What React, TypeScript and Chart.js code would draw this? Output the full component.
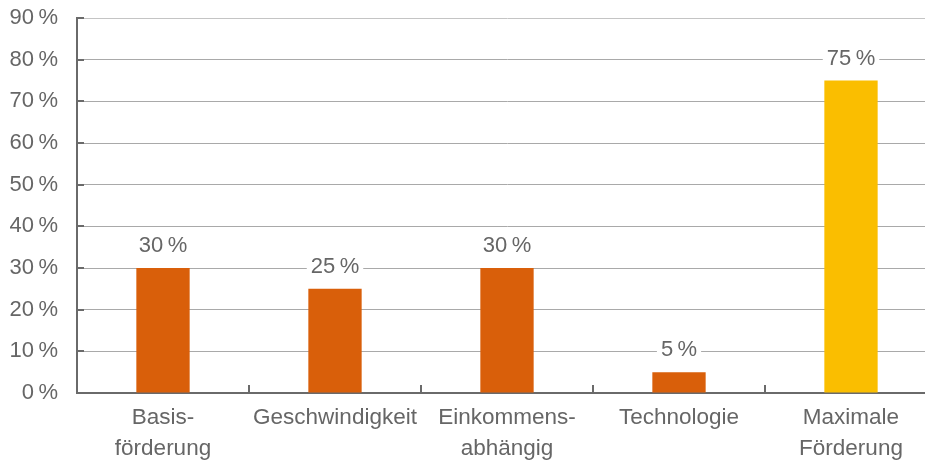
import React, { useEffect, useRef } from "react";
import { Chart, registerables } from "chart.js";

Chart.register(...registerables);

// Förderanteile je Modell (in Prozent)
const categories: (string | string[])[] = [
  ["Basis-", "förderung"],
  "Geschwindigkeit",
  ["Einkommens-", "abhängig"],
  "Technologie",
  ["Maximale", "Förderung"],
];
const shares = [30, 25, 30, 5, 75];
const barColors = ["#D95F0A", "#D95F0A", "#D95F0A", "#D95F0A", "#FABE00"];
const yTicks = [0, 10, 20, 30, 40, 50, 60, 70, 80, 90];

const FONT = "'Liberation Sans', Arial, Helvetica, sans-serif";
const FONT_SIZE = 22;
const TEXT = "#666666";
const pct = (v: number) => `${v}\u2009%`;

// Short tick marks pointing into the plot, plus value labels with a white backing
const decorations = {
  id: "decorations",
  afterDatasetsDraw(chart: any) {
    const { ctx, chartArea, scales } = chart;
    const x = scales.x;
    const y = scales.y;
    ctx.save();
    ctx.strokeStyle = "#6a6a6a";
    ctx.lineWidth = 2;
    // y-axis ticks (inside)
    yTicks.forEach((v) => {
      const py = Math.round(y.getPixelForValue(v));
      ctx.beginPath();
      ctx.moveTo(chartArea.left, py);
      ctx.lineTo(chartArea.left + 7, py);
      ctx.stroke();
    });
    // x-axis ticks between categories (inside)
    for (let i = 1; i < categories.length; i++) {
      const px = Math.round((x.getPixelForTick(i - 1) + x.getPixelForTick(i)) / 2);
      ctx.beginPath();
      ctx.moveTo(px, chartArea.bottom);
      ctx.lineTo(px, chartArea.bottom - 8);
      ctx.stroke();
    }
    // value labels
    ctx.font = `${FONT_SIZE}px ${FONT}`;
    ctx.textAlign = "center";
    ctx.textBaseline = "alphabetic";
    const meta = chart.getDatasetMeta(0);
    meta.data.forEach((bar: any, i: number) => {
      const text = pct(shares[i]);
      const w = ctx.measureText(text).width;
      const base = bar.y - 16;
      ctx.fillStyle = "#ffffff";
      ctx.fillRect(bar.x - w / 2 - 4, base - 19, w + 8, 23);
      ctx.fillStyle = TEXT;
      ctx.fillText(text, bar.x, base);
    });
    ctx.restore();
  },
};

export default function App() {
  const canvasRef = useRef<HTMLCanvasElement | null>(null);

  useEffect(() => {
    const canvas = canvasRef.current;
    if (!canvas) return;
    const chart = new Chart(canvas, {
      type: "bar",
      data: {
        labels: categories,
        datasets: [
          {
            data: shares,
            backgroundColor: barColors,
            borderWidth: 0,
            categoryPercentage: 1,
            barPercentage: 0.31,
          },
        ],
      },
      options: {
        animation: false,
        responsive: false,
        devicePixelRatio: 1,
        layout: { padding: { top: 18, right: 3, left: 0, bottom: 0 } },
        plugins: {
          legend: { display: false },
          tooltip: { enabled: false },
        },
        scales: {
          x: {
            z: 1,
            grid: { display: false, drawTicks: false, offset: true },
            border: { display: true, color: "#6a6a6a", width: 2 },
            ticks: {
              color: TEXT,
              font: { family: FONT, size: 22.5, lineHeight: 1.35 },
              padding: 10,
              maxRotation: 0,
              autoSkip: false,
            },
            afterFit: (scale: any) => {
              scale.height = 68;
            },
          },
          y: {
            min: 0,
            max: 90,
            afterBuildTicks: (scale: any) => {
              scale.ticks = yTicks.map((v) => ({ value: v }));
            },
            grid: {
              drawTicks: false,
              color: (c: any) => (c.tick && c.tick.value === 90 ? "#c4c4c4" : "#a9a9a9"),
              lineWidth: 1,
            },
            border: { display: true, color: "#6a6a6a", width: 2 },
            ticks: {
              color: TEXT,
              font: { family: FONT, size: FONT_SIZE },
              padding: 19,
              callback: (v: any) => pct(Number(v)),
            },
            afterFit: (scale: any) => {
              scale.width = 77;
              scale.paddingTop = 0;
              scale.paddingBottom = 0;
            },
          },
        },
      },
      plugins: [decorations],
    });
    return () => chart.destroy();
  }, []);

  return (
    <div
      style={{
        position: "absolute",
        left: 0,
        top: 0,
        width: 925,
        height: 461,
        overflow: "hidden",
        background: "#ffffff",
      }}
    >
      <canvas
        ref={canvasRef}
        width={940}
        height={461}
        style={{ width: 940, height: 461, display: "block" }}
      />
    </div>
  );
}
